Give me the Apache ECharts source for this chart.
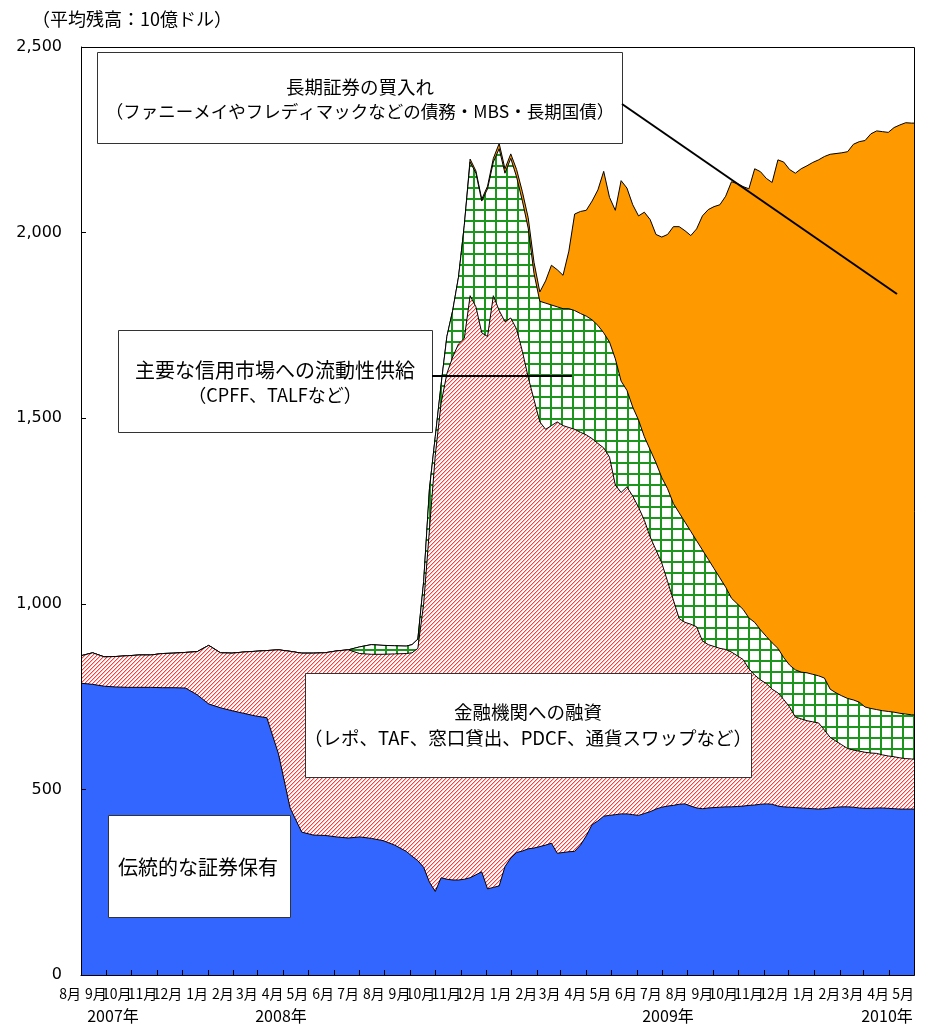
<!DOCTYPE html>
<html>
<head>
<meta charset="utf-8">
<script src="https://cdn.jsdelivr.net/npm/echarts@6/dist/echarts.min.js"></script>
<style>
html,body{margin:0;padding:0;background:#fff;}
#chart{width:926px;height:1030px;}
</style>
</head>
<body>
<div id="chart"></div>
<script>
// Weekly (biweekly before Sep 2008) observation dates
const dates = [
'2007-08-01','2007-08-15','2007-08-29','2007-09-12','2007-09-26','2007-10-10','2007-10-24','2007-11-07','2007-11-21','2007-12-05',
'2007-12-19','2008-01-02','2008-01-16','2008-01-30','2008-02-13','2008-02-27','2008-03-12','2008-03-26','2008-04-09','2008-04-23',
'2008-05-07','2008-05-21','2008-06-04','2008-06-18','2008-07-02','2008-07-16','2008-07-30','2008-08-13','2008-08-27',
'2008-09-03','2008-09-10','2008-09-17','2008-09-24','2008-10-01','2008-10-08','2008-10-15','2008-10-22','2008-10-29','2008-11-05',
'2008-11-12','2008-11-19','2008-11-26','2008-12-03','2008-12-10','2008-12-17','2008-12-24','2008-12-31',
'2009-01-07','2009-01-14','2009-01-21','2009-01-28','2009-02-04','2009-02-11','2009-02-18','2009-02-25','2009-03-04','2009-03-11',
'2009-03-18','2009-03-25','2009-04-01','2009-04-08','2009-04-15','2009-04-22','2009-04-29','2009-05-06','2009-05-13','2009-05-20',
'2009-05-27','2009-06-03','2009-06-10','2009-06-17','2009-06-24','2009-07-01','2009-07-08','2009-07-15','2009-07-22','2009-07-29',
'2009-08-05','2009-08-12','2009-08-19','2009-08-26','2009-09-02','2009-09-09','2009-09-16','2009-09-23','2009-09-30','2009-10-07',
'2009-10-14','2009-10-21','2009-10-28','2009-11-04','2009-11-11','2009-11-18','2009-11-25','2009-12-02','2009-12-09','2009-12-16',
'2009-12-23','2009-12-30',
'2010-01-06','2010-01-13','2010-01-20','2010-01-27','2010-02-03','2010-02-10','2010-02-17','2010-02-24','2010-03-03','2010-03-10',
'2010-03-17','2010-03-24','2010-03-31','2010-04-07','2010-04-14','2010-04-21','2010-04-28','2010-05-05'
];

// Cumulative levels (top edge of each band), 10億ドル
// 伝統的な証券保有 (top of bottom band)
const securitiesTop = [
786,783,778,776,775,775,775,774,774,773,
755,730,720,712,705,698,693,596,450,385,
377,376,372,369,372,368,362,350,333,
320,308,290,250,225,262,258,256,256,258,
262,270,278,232,236,240,292,315,330,334,
340,342,346,350,355,328,330,332,333,350,
375,405,415,428,430,432,434,434,432,430,
435,440,447,452,455,457,460,461,455,450,
448,450,451,452,453,453,454,455,457,458,
460,461,460,455,453,452,451,450,449,448,
447,448,450,452,453,453,452,450,449,449,
450,450,449,448,447,447,447,447
];
// + 金融機関への融資
const loansTop = [
860,868,857,858,860,862,862,866,867,869,
871,888,868,867,870,872,874,876,872,867,
867,868,873,876,866,864,864,865,866,
868,880,1000,1200,1400,1540,1620,1665,1700,1715,
1830,1800,1730,1720,1830,1790,1760,1770,1740,1680,
1610,1550,1490,1470,1480,1490,1480,1475,1470,1462,
1455,1445,1432,1420,1395,1320,1300,1315,1290,1260,
1225,1180,1145,1110,1060,1010,960,950,945,938,
900,890,885,880,877,870,860,850,825,808,
795,785,770,760,742,722,695,690,685,682,
679,660,640,630,620,610,606,603,600,598,
597,593,590,588,585,583,582,581
];
// + 主要な信用市場への流動性供給
const liquidityTop = [
860,868,857,858,860,862,862,866,867,869,
871,888,868,867,870,872,874,876,872,867,
867,868,873,876,884,890,888,887,886,
890,905,1060,1310,1450,1590,1720,1790,1880,2020,
2190,2160,2085,2118,2190,2226,2160,2200,2150,2085,
2012,1890,1815,1810,1805,1800,1795,1795,1790,1782,
1775,1765,1750,1730,1705,1660,1600,1575,1530,1495,
1450,1415,1380,1340,1310,1270,1245,1220,1195,1170,
1145,1120,1095,1070,1045,1015,1000,985,962,950,
930,912,895,880,855,835,822,816,814,810,
806,800,770,760,752,745,741,735,722,718,
715,712,710,708,705,703,701,700
];
// + 長期証券の買入れ (total)
const totalTop = [
860,868,857,858,860,862,862,866,867,869,
871,888,868,867,870,872,874,876,872,867,
867,868,873,876,884,890,888,887,886,
890,905,1060,1310,1450,1590,1720,1790,1880,2020,
2198,2166,2090,2125,2200,2240,2172,2212,2170,2110,
2040,1920,1840,1870,1912,1900,1885,1950,2050,2057,
2060,2085,2115,2165,2095,2060,2140,2120,2075,2045,
2055,2035,1995,1988,1995,2016,2016,2005,1992,2010,
2045,2062,2070,2075,2098,2137,2132,2124,2118,2172,
2164,2146,2135,2196,2190,2170,2160,2172,2180,2189,
2196,2205,2211,2213,2215,2218,2238,2245,2248,2266,
2274,2272,2270,2283,2290,2296,2295,2295
];

const yTicks = [0, 500, 1000, 1500, 2000, 2500];
const yearLabels = ['2007年', '2008年', '2009年', '2010年'];
const boxTexts = [
  ['長期証券の買入れ', '（ファニーメイやフレディマックなどの債務・MBS・長期国債）'],
  ['主要な信用市場への流動性供給', '（CPFF、TALFなど）'],
  ['金融機関への融資', '（レポ、TAF、窓口貸出、PDCF、通貨スワップなど）'],
  ['伝統的な証券保有']
];

const DAY = 86400000;
const T0 = Date.UTC(2007, 7, 1);
function dayOf(s) { const p = s.split('-').map(Number); return (Date.UTC(p[0], p[1] - 1, p[2]) - T0) / DAY; }
const xDays = dates.map(dayOf);
const xMax = dayOf('2010-05-01');
const monthStarts = [];
for (let y = 2007, m = 8; y < 2010 || (y === 2010 && m <= 5); ) {
  monthStarts.push(dayOf(y + '-' + m + '-1'));
  m++; if (m > 12) { m = 1; y++; }
}
function monthName(d) { const dt = new Date(T0 + d * DAY); return (dt.getUTCMonth() + 1) + '月'; }

function mk(arr) { return arr.map((v, i) => [xDays[i], v]); }

function hatchPattern() {
  const c = document.createElement('canvas'); c.width = 4; c.height = 4;
  const g = c.getContext('2d'); g.fillStyle = '#fff'; g.fillRect(0, 0, 4, 4);
  for (let y = 0; y < 4; y++) {
    g.fillStyle = '#ff3a3a'; g.fillRect((3 - y + 4) % 4, y, 1, 1);
    g.fillStyle = '#ffbcbc'; g.fillRect((4 - y + 4) % 4, y, 1, 1);
  }
  return c;
}
function gridPattern() {
  const n = 11; const c = document.createElement('canvas'); c.width = n; c.height = n;
  const g = c.getContext('2d'); g.fillStyle = '#fff'; g.fillRect(0, 0, n, n);
  g.fillStyle = '#1c961c'; g.fillRect(0, 0, 2, n); g.fillRect(0, 0, n, 2);
  return c;
}

const CJK = '"Noto Sans CJK JP", sans-serif';
const chart = echarts.init(document.getElementById('chart'), null, { renderer: 'canvas' });

function area(name, data, color, z) {
  return {
    name, type: 'line', data: mk(data), z, symbol: 'none', showSymbol: false, silent: true,
    lineStyle: { color: '#000', width: 1 }, areaStyle: { color, opacity: 1 }, animation: false
  };
}

const G = { left: 81, top: 47, right: 12, bottom: 55 };
const gw = 926 - G.left - G.right, gh = 1030 - G.top - G.bottom;

function box(x, y, w, h) {
  return { type: 'rect', shape: { x: x + 0.5, y: y + 0.5, width: w, height: h }, style: { fill: '#fff', stroke: '#333', lineWidth: 1 }, z: 100 };
}
function txt(t, x, y, size, align) {
  return { type: 'text', x, y, style: { text: t, font: size + 'px ' + CJK, fill: '#000', align: align || 'center', verticalAlign: 'middle' }, z: 101 };
}

chart.setOption({
  animation: false,
  backgroundColor: '#fff',
  grid: { left: G.left, top: G.top, right: G.right, bottom: G.bottom, show: false },
  xAxis: {
    type: 'value', min: 0, max: xMax, z: 10,
    axisLine: { show: true, lineStyle: { color: '#000', width: 1 } },
    axisTick: { show: true, inside: true, length: 5, customValues: monthStarts, lineStyle: { color: '#000' } },
    axisLabel: { show: true, customValues: monthStarts, formatter: v => monthName(v), align: 'right', margin: 12,
      fontFamily: CJK, fontSize: 14, color: '#000', showMinLabel: true, showMaxLabel: true },
    splitLine: { show: false }
  },
  yAxis: {
    type: 'value', min: 0, max: 2500, interval: 500, z: 10,
    axisLine: { show: true, lineStyle: { color: '#000', width: 1 } },
    axisTick: { show: true, inside: true, length: 5, lineStyle: { color: '#000' } },
    axisLabel: { formatter: v => v.toLocaleString('en-US'), fontFamily: 'DejaVu Sans', fontSize: 16, color: '#000', margin: 19 },
    splitLine: { show: false }
  },
  series: [
    area('長期証券の買入れ', totalTop, '#ff9900', 2),
    area('主要な信用市場への流動性供給', liquidityTop, { image: gridPattern(), repeat: 'repeat' }, 3),
    area('金融機関への融資', loansTop, { image: hatchPattern(), repeat: 'repeat' }, 4),
    area('伝統的な証券保有', securitiesTop, '#3366ff', 5)
  ],
  graphic: [
    { type: 'rect', shape: { x: G.left + 0.5, y: G.top + 0.5, width: gw, height: gh }, style: { fill: 'none', stroke: '#000', lineWidth: 1 }, z: 90 },
    txt('（平均残高：10億ドル）', 32, 19, 18, 'left'),
    box(97, 52, 525, 91),
    txt(boxTexts[0][0], 360, 87, 18.5), txt(boxTexts[0][1], 360, 111, 17.5),
    { type: 'line', shape: { x1: 622, y1: 104, x2: 897, y2: 294 }, style: { stroke: '#000', lineWidth: 2 }, z: 100 },
    box(118, 330, 314, 102),
    txt(boxTexts[1][0], 275, 370, 20), txt(boxTexts[1][1], 275, 395, 18),
    { type: 'line', shape: { x1: 432, y1: 376, x2: 572, y2: 376 }, style: { stroke: '#000', lineWidth: 2 }, z: 100 },
    box(305, 673, 446, 104),
    txt(boxTexts[2][0], 528, 712, 18.5), txt(boxTexts[2][1], 528, 738, 18.5),
    box(108, 815, 182, 102),
    txt(boxTexts[3][0], 198, 867, 20),
    txt(yearLabels[0], 113, 1016, 16), txt(yearLabels[1], 281, 1016, 16),
    txt(yearLabels[2], 668, 1016, 16), txt(yearLabels[3], 887, 1016, 16)
  ]
});
</script>
</body>
</html>
